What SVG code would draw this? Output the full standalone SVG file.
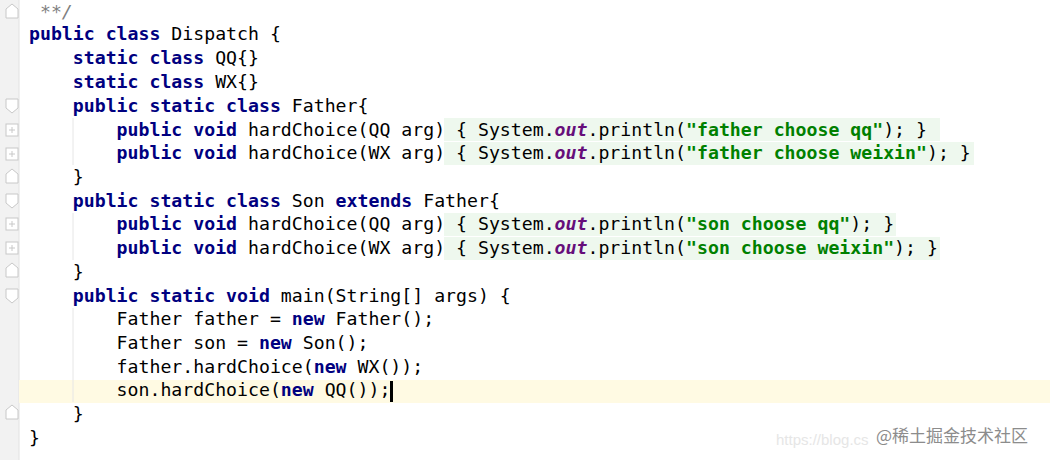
<svg xmlns="http://www.w3.org/2000/svg" width="1050" height="460" viewBox="0 0 1050 460">
<style>
text{font-family:"DejaVu Sans Mono","Liberation Mono",monospace;font-size:18.2px;fill:#000;white-space:pre}
.k{fill:#000080;font-weight:bold}
.s{fill:#008000;font-weight:bold}
.o{fill:#660E7A;font-weight:bold;font-style:italic}
.c{fill:#808080;font-style:italic}
.fold{fill:#EEF8EE}
.ic{fill:#fff;stroke:#c8c8c8;stroke-width:1}
.ip{stroke:#c8c8c8;stroke-width:1}
</style>
<rect width="1050" height="460" fill="#fff"/>
<rect x="0" y="0" width="19" height="460" fill="#f2f2f2"/>
<line x1="19" y1="0" x2="19" y2="460" stroke="#e2e2e2"/>
<rect x="19" y="380" width="1031" height="23" fill="#FFFAE3"/>
<g id="folds">
<rect class="fold" x="444" y="118" width="496" height="23"/>
<rect class="fold" x="444" y="142" width="530" height="23"/>
<rect class="fold" x="444" y="213" width="452" height="23"/>
<rect class="fold" x="444" y="237" width="496" height="23"/>
</g>
<g id="gutter">
<path class="ic" d="M12 4 L18 9 V18 H6 V9 Z"/>
<path class="ic" d="M6 99 H18 V108 L12 113 L6 108 Z"/>
<rect class="ic" x="6" y="124" width="12" height="12"/><path class="ip" d="M9 130H15M12 127V133"/>
<rect class="ic" x="6" y="148" width="12" height="12"/><path class="ip" d="M9 154H15M12 151V157"/>
<path class="ic" d="M12 169 L18 174 V183 H6 V174 Z"/>
<path class="ic" d="M6 194 H18 V203 L12 208 L6 203 Z"/>
<rect class="ic" x="6" y="218" width="12" height="12"/><path class="ip" d="M9 224H15M12 221V227"/>
<rect class="ic" x="6" y="242" width="12" height="12"/><path class="ip" d="M9 248H15M12 245V251"/>
<path class="ic" d="M12 263 L18 268 V277 H6 V268 Z"/>
<path class="ic" d="M6 289 H18 V298 L12 303 L6 298 Z"/>
<path class="ic" d="M12 405 L18 410 V419 H6 V410 Z"/>
</g>
<line x1="73" y1="118" x2="73" y2="165" stroke="#e6e6e6"/>
<line x1="73" y1="213" x2="73" y2="260" stroke="#e6e6e6"/>
<line x1="73" y1="308" x2="73" y2="402" stroke="#e6e6e6"/>
<g id="code">
<text x="29" y="18"><tspan class="c"> **/</tspan></text>
<text x="29" y="40"><tspan class="k">public class</tspan> Dispatch {</text>
<text x="29" y="64">    <tspan class="k">static class</tspan> QQ{}</text>
<text x="29" y="88">    <tspan class="k">static class</tspan> WX{}</text>
<text x="29" y="112">    <tspan class="k">public static class</tspan> Father{</text>
<text x="29" y="136">        <tspan class="k">public void</tspan> hardChoice(QQ arg) { System.<tspan class="o">out</tspan>.println(<tspan class="s">"father choose qq"</tspan>); }</text>
<text x="29" y="159">        <tspan class="k">public void</tspan> hardChoice(WX arg) { System.<tspan class="o">out</tspan>.println(<tspan class="s">"father choose weixin"</tspan>); }</text>
<text x="29" y="183">    }</text>
<text x="29" y="207">    <tspan class="k">public static class</tspan> Son <tspan class="k">extends</tspan> Father{</text>
<text x="29" y="230">        <tspan class="k">public void</tspan> hardChoice(QQ arg) { System.<tspan class="o">out</tspan>.println(<tspan class="s">"son choose qq"</tspan>); }</text>
<text x="29" y="254">        <tspan class="k">public void</tspan> hardChoice(WX arg) { System.<tspan class="o">out</tspan>.println(<tspan class="s">"son choose weixin"</tspan>); }</text>
<text x="29" y="278">    }</text>
<text x="29" y="302">    <tspan class="k">public static void</tspan> main(String[] args) {</text>
<text x="29" y="325">        Father father = <tspan class="k">new</tspan> Father();</text>
<text x="29" y="349">        Father son = <tspan class="k">new</tspan> Son();</text>
<text x="29" y="373">        father.hardChoice(<tspan class="k">new</tspan> WX());</text>
<text x="29" y="396">        son.hardChoice(<tspan class="k">new</tspan> QQ());</text>
<text x="29" y="420">    }</text>
<text x="29" y="444">}</text>
</g>
<rect x="390" y="381" width="3" height="21" fill="#000"/>
<text x="776" y="445" style="font-family:'Liberation Sans',sans-serif;font-size:15px;fill:#e6e6e6">https://blog.cs</text>
<text x="876" y="442" style="font-family:'Noto Sans CJK SC',sans-serif;font-size:17px;fill:#8c8c8c">@稀土掘金技术社区</text>
</svg>
